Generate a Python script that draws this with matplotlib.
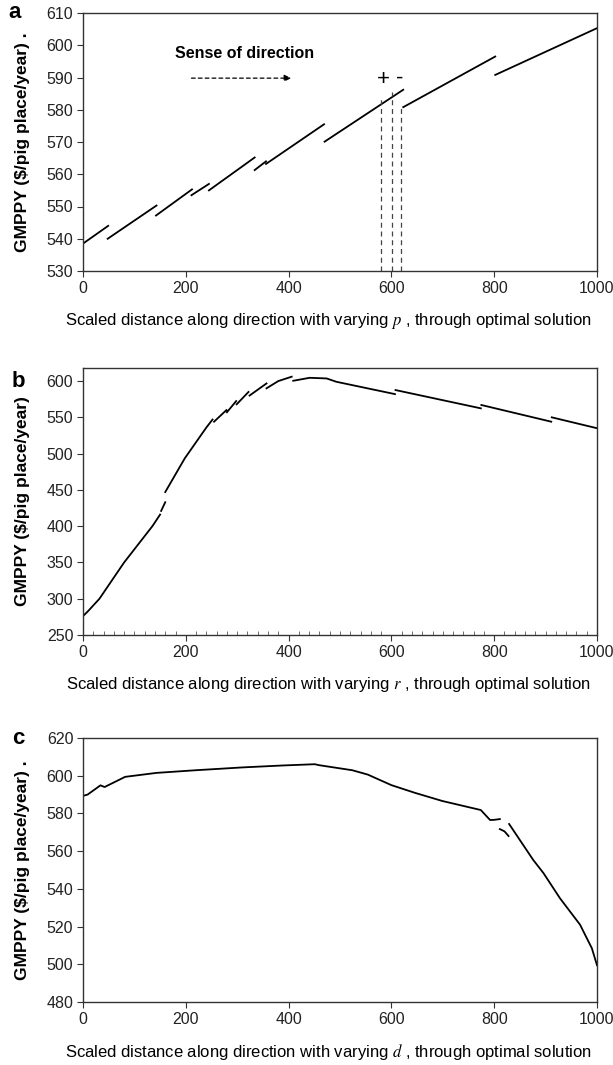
"""Three-panel GMPPY profiles along scaled search directions."""

import numpy as np
import matplotlib
matplotlib.use("Agg")
import matplotlib.pyplot as plt
from matplotlib.ticker import MultipleLocator

plt.rcParams["font.family"] = ["Liberation Sans", "DejaVu Sans"]
plt.rcParams["mathtext.fontset"] = "stix"

NAN = np.nan

# panel a: piecewise segments (nan = break)
a_x = [0, 49, NAN, 48, 143, NAN, 142, 212, NAN, 211, 245, NAN, 245, 334, NAN,
       334, 356, NAN, 356, 469, NAN, 470, 623, NAN, 623, 802, NAN, 802, 1000]
a_y = [538.5, 544, NAN, 540, 550.3, NAN, 547.2, 555.3, NAN, 553.5, 557, NAN, 555, 565.2, NAN,
       561.3, 564, NAN, 563.2, 575.5, NAN, 570.1, 586.2, NAN, 580.8, 596.5, NAN, 590.8, 605.3]
a_marks_x = [579, 601, 619]
a_marks_top = [583.5, 585.6, 581.4]

# panel b
b_x = [0, 10, 32, 80, 135, 150, NAN, 152, 160, NAN, 160, 198, 240, 252, NAN,
       255, 279, NAN, 280, 298, NAN, 299, 322, NAN, 324, 357, NAN, 357, 380, 406, NAN,
       409, 441, 474, 493, 607, NAN, 608, 774, NAN, 775, 911, NAN, 912, 1000]
b_y = [276, 283, 300, 350, 400, 416, NAN, 421, 433, NAN, 447, 493.5, 536, 547, NAN,
       544, 560, NAN, 557, 572.4, NAN, 568, 585, NAN, 580, 596.7, NAN, 590, 600, 606, NAN,
       600.4, 604.5, 603.6, 599, 582, NAN, 587.6, 562.4, NAN, 567, 544, NAN, 550, 535]

# panel c
c_x = [0, 9, 34, 42, 82, 143, 219, 310, 386, 451, 459, 524, 554, 600, 646, 699, 774, 792, 800, 811, NAN,
       811, 820, 828, NAN, 829, 876, 896, 928, 967, 990, 1000]
c_y = [589.3, 590, 594.9, 594, 599.4, 601.5, 602.9, 604.4, 605.4, 606.1, 605.6, 602.9, 600.6, 595,
       590.9, 586.6, 581.8, 576.5, 576.6, 577, NAN,
       571.7, 570.5, 568, NAN, 574.4, 555.3, 548.3, 535, 521, 508.5, 499.5]

W, H = 613, 1065
fig = plt.figure(figsize=(W / 100, H / 100), dpi=100)


def make_axes(top, bottom):
    ax = fig.add_axes([83 / W, 1 - bottom / H, (597 - 83) / W, (bottom - top) / H])
    ax.height_px = bottom - top
    return ax


def style(ax, ylim, yticks, letter, letter_x, var, ylabel):
    ax.set_xlim(0, 1000)
    ax.set_ylim(*ylim)
    ax.set_yticks(yticks)
    ax.set_xticks(range(0, 1001, 200))
    for s in ax.spines.values():
        s.set_color("#333333")
        s.set_linewidth(1.0)
    ax.tick_params(direction="out", length=4, width=0.8, color="#333333",
                   labelsize=11.5, labelcolor="#222222", pad=3)
    ax.set_xlabel(f"Scaled distance along direction with varying ${var}$ , through optimal solution",
                  fontsize=12)
    ax.xaxis.set_label_coords(0.478, -50 / ax.height_px)
    ax.xaxis.label.set_va("center")
    ax.set_ylabel(ylabel, fontsize=12.5, fontweight="bold")
    ax.yaxis.set_label_coords(-0.104, 0.5)
    ax.text(letter_x, 1.0 if letter != "b" else 0.95, letter, transform=ax.transAxes,
            fontsize=16, fontweight="bold", ha="center", va="center")


# panel a
ax = make_axes(13, 271)
ax.plot(a_x, a_y, color="black", lw=1.3)
for xv, top in zip(a_marks_x, a_marks_top):
    ax.plot([xv, xv], [530, top], color="#444444", lw=0.9, ls=(0, (4, 3)))
ax.text(585, 589.5, "+", fontsize=16, ha="center", va="center")
ax.text(617, 589.8, "-", fontsize=16, ha="center", va="center")
ax.text(314, 597.3, "Sense of direction", fontsize=11.5, fontweight="bold", ha="center", va="center")
ax.annotate("", xy=(405, 589.8), xytext=(211, 589.8),
            arrowprops=dict(arrowstyle="-|>", color="black", lw=0.9, ls=(0, (3, 2.5)),
                            mutation_scale=10, shrinkA=0, shrinkB=0))
style(ax, (530, 610), range(530, 611, 10), "a", -0.133, "p", "GMPPY ($/pig place/year) .")

# panel b
ax = make_axes(368, 635)
ax.plot(b_x, b_y, color="black", lw=1.3)
style(ax, (250, 618), range(250, 601, 50), "b", -0.125, "r", "GMPPY ($/pig place/year)")
ax.xaxis.set_minor_locator(MultipleLocator(20))
ax.tick_params(axis="x", which="minor", direction="in", length=3, color="#555555")

# panel c
ax = make_axes(738, 1002)
ax.plot(c_x, c_y, color="black", lw=1.3)
style(ax, (480, 620), range(480, 621, 20), "c", -0.125, "d", "GMPPY ($/pig place/year) .")

fig.savefig("out.png", dpi=100)
